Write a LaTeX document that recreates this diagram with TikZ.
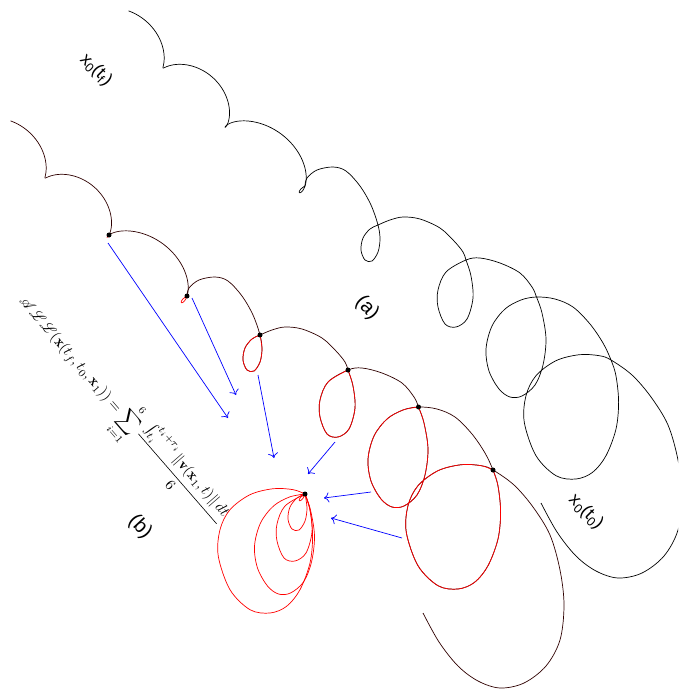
\documentclass[tikz,border=0pt]{standalone}
\usepackage{fontspec}
\usepackage{mathrsfs}
\usetikzlibrary{arrows.meta}
\newfontfamily\labfont{Liberation Sans}
\def\A{14}
\def\dx{0.7660}
\def\dy{0.6428}
\def\wx{0.6428}
\def\wy{-0.7660}
\newcommand\hh[2]{(((\s-(#1))/((#2)-(#1)))^2*(3-2*(\s-(#1))/((#2)-(#1))))}
% trochoid loop: style, Px, Py, r, s*
\newcommand\drawloop[5]{%
  \draw[#1] plot[domain=-#5:#5, samples=50, smooth, variable=\s]
   ({#2 + (\A*\s - #4*sin(\s r))*\dx - #4*cos(\s r)*\wx},
    {#3 + (\A*\s - #4*sin(\s r))*\dy - #4*cos(\s r)*\wy});}
% trochoid arc: style, Px, Py, Ex, Ey, r1, r2, s1, s2
\newcommand\drawarc[9]{%
  \draw[#1] plot[domain=#8:#9, samples=60, smooth, variable=\s]
   ({#2 + #4*\hh{#8}{#9} + (\A*\s - (#6+(#7-#6)*\hh{#8}{#9})*sin(\s r))*\dx - (#6+(#7-#6)*\hh{#8}{#9})*cos(\s r)*\wx},
    {#3 + #5*\hh{#8}{#9} + (\A*\s - (#6+(#7-#6)*\hh{#8}{#9})*sin(\s r))*\dy - (#6+(#7-#6)*\hh{#8}{#9})*cos(\s r)*\wy});}
% first part: start, cusps
\newcommand\partA[1]{%
  \draw[#1] plot[domain=-3.9:0, samples=50, smooth, variable=\s]
   ({171.04 + (\A*\s - 12.5*sin(\s r))*\dx - 12.5*cos(\s r)*\wx},
    {58.43 + (\A*\s - 12.5*sin(\s r))*\dy - 12.5*cos(\s r)*\wy});
  \drawarc{#1}{171.04}{58.43}{-3.69}{0.82}{12.5}{15}{0}{5.6432}
  \drawarc{#1}{234.73}{115.79}{8.25}{7.28}{15}{17}{0.64}{5.2252}}
\newcommand\loopA[1]{\drawloop{#1}{234.73}{115.79}{15}{0.64}}
\newcommand\loopB[1]{\drawloop{#1}{310.36}{179.61}{17}{1.058}}
% second part: big loops, traced
\newcommand\partB[1]{%
  \draw[#1] plot[smooth, tension=0.55] coordinates {
   (305,186) (307,178) (317,170) (333,167) (346,171) (360,186) (371,205)
   (378,225) (380,239) (378,252) (372,261) (365,260) (361,250) (363,238) (370,229)
   (378,225) (390,220) (403,217) (420,219) (440,228) (454,241) (463,252)
   (466,260) (471,276) (473,298) (467,319) (456,327) (445,324) (438,307) (438,290) (446,272)
   (466,260) (480,258) (500,263) (520,273) (532,287)
   (536.5,297) (542,313) (546,339) (543,365) (535,385) (522,396) (510,397) (499,389)
     (489,371) (486,349) (492,326) (505,309) (521,300)
   (536.5,297) (555,299) (573,307) (590,324) (603,343)
   (611,360) (616,376) (618.6,402) (616,429) (606,455.7) (592.6,472.3) (576,479)
     (556,475.7) (536,455.7) (524.3,422.3) (526,395.7) (536,375.7) (556,360.7)
     (579.3,354.7) (599.3,355.7)
   (611,360) (632,375) (651,397) (668,425) (678,460) (682,495) (678,530) (664,556)
     (642,573) (618,578) (596,571) (576,556) (557,532) (541,503)};}
\newcommand\loopC[1]{\draw[#1] plot[smooth, tension=0.55] coordinates {
   (378,225) (380,239) (378,252) (372,261) (365,260) (361,250) (363,238) (370,229) (378,225)};}
\newcommand\loopD[1]{\draw[#1] plot[smooth, tension=0.55] coordinates {
   (466,260) (471,276) (473,298) (467,319) (456,327) (445,324) (438,307) (438,290) (446,272) (466,260)};}
\newcommand\loopE[1]{\draw[#1] plot[smooth, tension=0.55] coordinates {
   (536.5,297) (542,313) (546,339) (543,365) (535,385) (522,396) (510,397) (499,389)
   (489,371) (486,349) (492,326) (505,309) (521,300) (536.5,297)};}
\newcommand\loopF[1]{\draw[#1] plot[smooth, tension=0.55] coordinates {
   (611,360) (616,376) (618.6,402) (616,429) (606,455.7) (592.6,472.3) (576,479)
   (556,475.7) (536,455.7) (524.3,422.3) (526,395.7) (536,375.7) (556,360.7)
   (579.3,354.7) (599.3,355.7) (611,360)};}
\begin{document}
\begin{tikzpicture}[x=1pt,y=-1pt,
  traj/.style={line width=0.7pt, black},
  trajb/.style={line width=0.7pt, black!82!red},
  redl/.style={line width=0.7pt, red},
  dot/.style={circle, fill=black, inner sep=0pt, minimum size=5pt},
  arr/.style={blue, line width=0.7pt, -{To[length=5pt,width=10pt]}},
  lab/.style={font=\labfont\fontsize{20}{24}\selectfont, inner sep=0pt},
  lab2/.style={font=\labfont\fontsize{18}{22}\selectfont, inner sep=0pt}]
\useasboundingbox (0,0) rectangle (678,694);
\clip (0,0) rectangle (678,694);
% (a)
\partA{traj}\loopA{traj}\loopB{traj}\partB{traj}
% (b)
\begin{scope}[shift={(-118,110)}]
  \partA{trajb}\partB{trajb}
  \loopA{redl}\loopB{redl}\loopC{redl}\loopD{redl}\loopE{redl}\loopF{redl}
  \node[dot] (d1) at (227,125) {};
  \node[dot] (d2) at (305,186) {};
  \node[dot] (d3) at (378,225) {};
  \node[dot] (d4) at (466,260) {};
  \node[dot] (d5) at (536.5,297) {};
  \node[dot] (d6) at (611,360) {};
\end{scope}
% overlay of the loops
\begin{scope}[shift={(78,369)}]\loopA{redl}\end{scope}
\begin{scope}[shift={(0,308)}]\loopB{redl}\end{scope}
\begin{scope}[shift={(-73,269)}]\loopC{redl}\end{scope}
\begin{scope}[shift={(-161,234)}]\loopD{redl}\end{scope}
\begin{scope}[shift={(-231.5,197)}]\loopE{redl}\end{scope}
\begin{scope}[shift={(-306,134)}]\loopF{redl}\end{scope}
\node[dot] (pstar) at (305,494) {};
% arrows
\coordinate (a1s) at (108,243); \coordinate (a1e) at (228,418);
\coordinate (a2s) at (192,298); \coordinate (a2e) at (236,395);
\coordinate (a3s) at (258,375); \coordinate (a3e) at (274,458);
\coordinate (a4s) at (335,442); \coordinate (a4e) at (308,474);
\coordinate (a5s) at (371,492); \coordinate (a5e) at (324,498);
\coordinate (a6s) at (402,538); \coordinate (a6e) at (331,518);
\draw[arr] (a1s) -- (a1e);
\draw[arr] (a2s) -- (a2e);
\draw[arr] (a3s) -- (a3e);
\draw[arr] (a4s) -- (a4e);
\draw[arr] (a5s) -- (a5e);
\draw[arr] (a6s) -- (a6e);
% labels
\node[lab, rotate=-47] (la) at (367,308) {(a)};
\node[lab, rotate=-47] (lb) at (140,527) {(b)};
\node[lab2, rotate=-45] (ltf) at (96,70) {x\textsubscript{0}(t\textsubscript{f})};
\node[lab2, rotate=-45] (lt0) at (586,512) {x\textsubscript{0}(t\textsubscript{0})};
\node[rotate=-49, scale=1.5, inner sep=0pt] (form) at (120,412)
  {$\displaystyle \mathscr{ALL}(\mathbf{x}(t_f,t_0,\mathbf{x}_1)) = \sum_{i=1}^{6}\frac{\int_{t_i}^{t_i+\tau_i}\|\mathbf{v}(\mathbf{x}_1,t)\|\,dt}{6}$};
\end{tikzpicture}
\end{document}
